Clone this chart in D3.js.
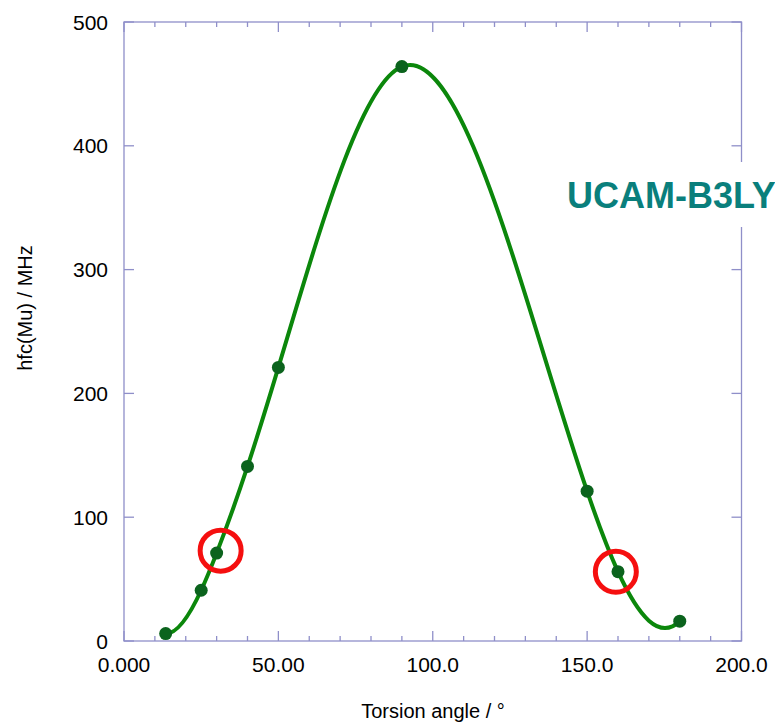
<!DOCTYPE html>
<html>
<head>
<meta charset="utf-8">
<script src="https://cdn.jsdelivr.net/npm/d3@7"></script>
<style>
  body { margin: 0; background: #fff; }
  text { font-family: "Liberation Sans", Arial, Helvetica, sans-serif; }
</style>
</head>
<body>
<svg id="chart" width="775" height="725"></svg>
<script>
// torsion angle (deg) and muon hfc (MHz)
const angles = [13.5, 25, 30, 40, 50, 90, 150, 160, 180];
const hfc = [6, 41, 71, 141, 221, 464, 121, 56, 16];

// points marked with red rings
const marked = [[31.3, 73], [159.3, 56]];

const xTicks = [0, 50, 100, 150, 200];
const xTickLabels = ["0.000", "50.00", "100.0", "150.0", "200.0"];
const xMinor = d3.range(0, 201, 10);
const yTicks = [0, 100, 200, 300, 400, 500];

// Cubic spline (not-a-knot ends) with y as a function of x, as a d3 curve.
// Each piece is a cubic in x, so it is drawn exactly as one bezier.
function curveSplineX(context) {
  let px, py;
  return {
    areaStart() {}, areaEnd() {},
    lineStart() { px = []; py = []; },
    point(a, b) { px.push(+a); py.push(+b); },
    lineEnd() {
      let n = px.length;
      if (n == 0) return;
      context.moveTo(px[0], py[0]);
      if (n < 4) {
        for (let i = 1; i < n; ++i) context.lineTo(px[i], py[i]);
        return;
      }
      let h = [];
      for (let i = 0; i < n - 1; ++i) h.push(px[i+1] - px[i]);
      // linear system for the second derivatives M
      let A = [], b = [];
      for (let i = 0; i < n; ++i) { A.push(new Array(n).fill(0)); b.push(0); }
      A[0][0] = h[1]; A[0][1] = -(h[0] + h[1]); A[0][2] = h[0];
      for (let i = 1; i < n - 1; ++i) {
        A[i][i-1] = h[i-1];
        A[i][i] = 2 * (h[i-1] + h[i]);
        A[i][i+1] = h[i];
        b[i] = 6 * ((py[i+1] - py[i]) / h[i] - (py[i] - py[i-1]) / h[i-1]);
      }
      A[n-1][n-3] = h[n-2]; A[n-1][n-2] = -(h[n-3] + h[n-2]); A[n-1][n-1] = h[n-3];
      // gaussian elimination with partial pivoting
      for (let k = 0; k < n; ++k) {
        let p = k;
        for (let i = k + 1; i < n; ++i)
          if (Math.abs(A[i][k]) > Math.abs(A[p][k])) p = i;
        [A[k], A[p]] = [A[p], A[k]];
        [b[k], b[p]] = [b[p], b[k]];
        for (let i = k + 1; i < n; ++i) {
          let f = A[i][k] / A[k][k];
          for (let j = k; j < n; ++j) A[i][j] -= f * A[k][j];
          b[i] -= f * b[k];
        }
      }
      let M = new Array(n).fill(0);
      for (let i = n - 1; i >= 0; --i) {
        let s = b[i];
        for (let j = i + 1; j < n; ++j) s -= A[i][j] * M[j];
        M[i] = s / A[i][i];
      }
      let slope = i => {
        if (i < n - 1)
          return (py[i+1] - py[i]) / h[i] - h[i] * (2 * M[i] + M[i+1]) / 6;
        return (py[i] - py[i-1]) / h[i-1] + h[i-1] * (M[i-1] + 2 * M[i]) / 6;
      };
      for (let i = 0; i < n - 1; ++i) {
        let m0 = slope(i), m1 = slope(i+1), t = h[i] / 3;
        context.bezierCurveTo(px[i] + t, py[i] + m0 * t,
          px[i+1] - t, py[i+1] - m1 * t, px[i+1], py[i+1]);
      }
    }
  };
}

const svg = d3.select('#chart');
const frame = { left: 124, right: 741.5, top: 22, bottom: 641 };

const x = d3.scaleLinear().domain([0, 200]).range([frame.left, frame.right]);
const y = d3.scaleLinear().domain([0, 500]).range([frame.bottom, frame.top]);

const axisColor = '#8f8fc9';

// frame
svg.append('rect')
  .attr('x', frame.left).attr('y', frame.top)
  .attr('width', frame.right - frame.left)
  .attr('height', frame.bottom - frame.top)
  .attr('fill', 'none')
  .attr('stroke', axisColor)
  .attr('stroke-width', 1.3);

// ticks, pointing inward on all four sides
let ticks = svg.append('g').attr('stroke', axisColor).attr('stroke-width', 1.3);
xMinor.forEach(v => {
  let len = (v % 50 == 0) ? 10 : 5;
  ticks.append('line')
    .attr('x1', x(v)).attr('x2', x(v))
    .attr('y1', frame.bottom).attr('y2', frame.bottom - len);
  ticks.append('line')
    .attr('x1', x(v)).attr('x2', x(v))
    .attr('y1', frame.top).attr('y2', frame.top + len);
});
yTicks.forEach(v => {
  ticks.append('line')
    .attr('x1', frame.left).attr('x2', frame.left + 10)
    .attr('y1', y(v)).attr('y2', y(v));
  ticks.append('line')
    .attr('x1', frame.right).attr('x2', frame.right - 10)
    .attr('y1', y(v)).attr('y2', y(v));
});

// tick labels
svg.append('g').selectAll('text')
  .data(xTicks)
  .enter().append('text')
  .attr('x', d => x(d))
  .attr('y', 672)
  .attr('text-anchor', 'middle')
  .attr('font-size', 21)
  .text((d, i) => xTickLabels[i]);

svg.append('g').selectAll('text')
  .data(yTicks)
  .enter().append('text')
  .attr('x', 108)
  .attr('y', d => y(d))
  .attr('dy', '0.36em')
  .attr('text-anchor', 'end')
  .attr('font-size', 21)
  .text(d => d);

// axis titles
svg.append('text')
  .attr('x', 433).attr('y', 718)
  .attr('text-anchor', 'middle')
  .attr('font-size', 20)
  .text('Torsion angle / °');

svg.append('text')
  .attr('transform', 'translate(32,308) rotate(-90)')
  .attr('text-anchor', 'middle')
  .attr('font-size', 20)
  .text('hfc(Mu) / MHz');

// curve through the points
let pts = angles.map((a, i) => [a, hfc[i]]);
let line = d3.line()
  .x(d => x(d[0]))
  .y(d => y(d[1]))
  .curve(curveSplineX);

svg.append('path')
  .datum(pts)
  .attr('d', line)
  .attr('fill', 'none')
  .attr('stroke', '#0b870b')
  .attr('stroke-width', 4);

svg.append('g').selectAll('circle')
  .data(pts)
  .enter().append('circle')
  .attr('cx', d => x(d[0]))
  .attr('cy', d => y(d[1]))
  .attr('r', 6.5)
  .attr('fill', '#0b631d');

svg.append('g').selectAll('circle')
  .data(marked)
  .enter().append('circle')
  .attr('cx', d => x(d[0]))
  .attr('cy', d => y(d[1]))
  .attr('r', 20.5)
  .attr('fill', 'none')
  .attr('stroke', '#f50f0f')
  .attr('stroke-width', 5);

// method label on a white patch over the right frame
svg.append('rect')
  .attr('x', 560).attr('y', 162)
  .attr('width', 215).attr('height', 65)
  .attr('fill', '#fff');

svg.append('text')
  .attr('x', 567).attr('y', 208)
  .attr('font-size', 36)
  .attr('font-weight', 'bold')
  .attr('fill', '#0a7f7c')
  .text('UCAM-B3LYP');
</script>
</body>
</html>
